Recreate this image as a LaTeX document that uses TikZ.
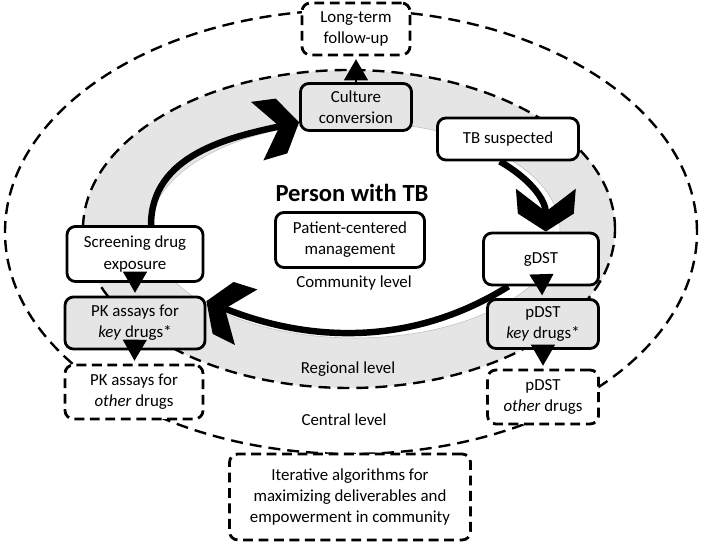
\documentclass[tikz,border=0pt]{standalone}
\usepackage{fontspec}
\setmainfont{Carlito}
\usetikzlibrary{arrows.meta, backgrounds}

% chevron head of the big cycle arrows
\pgfdeclarearrow{
    name = Chevron,
    setup code = {
        \pgfarrowssettipend{0pt}
        \pgfarrowssetlineend{-13pt}
        \pgfarrowssetbackend{-30.5pt}
        \pgfarrowssetvisualbackend{-14pt}
    },
    drawing code = {
        \pgfpathmoveto{\pgfpoint{0pt}{0pt}}
        \pgfpathlineto{\pgfpoint{-12.8pt}{19.9pt}}
        \pgfpathlineto{\pgfpoint{-30.5pt}{21.3pt}}
        \pgfpathlineto{\pgfpoint{-14.2pt}{0pt}}
        \pgfpathlineto{\pgfpoint{-30.5pt}{-21.3pt}}
        \pgfpathlineto{\pgfpoint{-12.8pt}{-19.9pt}}
        \pgfpathclose
        \pgfusepathqfill
    }
}

\tikzset{
    box/.style={draw, line width=2pt, rounded corners=6pt, fill=white,
        align=center, inner sep=1pt, font=\fontsize{12}{15}\selectfont},
    greybox/.style={box, fill=gray!20},
    dashbox/.style={box, dash pattern=on 7pt off 4pt},
    lvl/.style={font=\fontsize{12}{15}\selectfont},
    ring/.style={line width=1.7pt, dash pattern=on 8.5pt off 5pt},
    cyc/.style={line width=4.6pt, -Chevron},
    tri/.style={line width=1pt, -{Triangle[length=15pt, width=17pt]}, shorten >=2pt},
}

\begin{document}
\begin{tikzpicture}[x=0.25mm, y=0.25mm]
    \useasboundingbox (0,0) rectangle (702,544);

    % boxes of the cycle
    \node[dashbox, minimum width=27mm, minimum height=13mm] (lt) at (356,515) {Long-term\\follow-up};
    \node[greybox, minimum width=27.75mm, minimum height=11.75mm] (cc) at (356,437) {Culture\\conversion};
    \node[box, minimum width=35.25mm, minimum height=10.5mm] (tbs) at (508,405) {TB suspected};
    \node[box, minimum width=28.75mm, minimum height=13mm] (gdst) at (541,285) {gDST};
    \node[greybox, minimum width=27.75mm, minimum height=12.25mm] (pkey) at (543,220) {pDST\\\emph{key} drugs*};
    \node[dashbox, minimum width=27.75mm, minimum height=13.5mm] (poth) at (543,147) {pDST\\\emph{other} drugs};
    \node[box, minimum width=34mm, minimum height=13.75mm] (scr) at (135,290) {Screening drug\\exposure};
    \node[greybox, minimum width=35mm, minimum height=13mm] (pkkey) at (135,221) {PK assays for\\\emph{key} drugs*};
    \node[dashbox, minimum width=34.5mm, minimum height=13.5mm] (pkoth) at (134,152) {PK assays for\\\emph{other} drugs};

    % centre
    \node[font=\bfseries\fontsize{17.5}{20}\selectfont] (person) at (352,351) {Person with TB};
    \node[box, minimum width=37.25mm, minimum height=13.75mm] (pcm) at (350,304) {Patient-centered\\management};

    % levels
    \node[lvl] (community) at (354,261) {Community level};
    \node[lvl] (regional) at (348,175) {Regional level};
    \node[lvl] (central) at (344,124) {Central level};
    \node[dashbox, minimum width=60.25mm, minimum height=21.5mm] (iter) at (350,47)
        {Iterative algorithms for\\maximizing deliverables and\\empowerment in community};

    \begin{scope}[on background layer]
        \draw[ring] (351,312) ellipse [x radius=346, y radius=222];
        \draw[ring, fill=gray!20] (349,315) ellipse [x radius=266, y radius=159];
        \draw[gray!50, line width=0.4pt, fill=white] (355,314) ellipse [x radius=205, y radius=108];
        % the cycle
        \draw[cyc] (scr.61) to[out=90, in=192] (cc.195);
        \draw[cyc] (tbs.250) to[out=-30, in=90] (gdst.80);
        \draw[cyc] (gdst.220) to[out=212, in=-22, looseness=0.95] (pkkey.17);
    \end{scope}

    \foreach \a/\b in {cc/lt, gdst/pkey, pkey/poth, scr/pkkey, pkkey/pkoth} {
        \draw[tri] (\a) -- (\b);
    }
\end{tikzpicture}
\end{document}
